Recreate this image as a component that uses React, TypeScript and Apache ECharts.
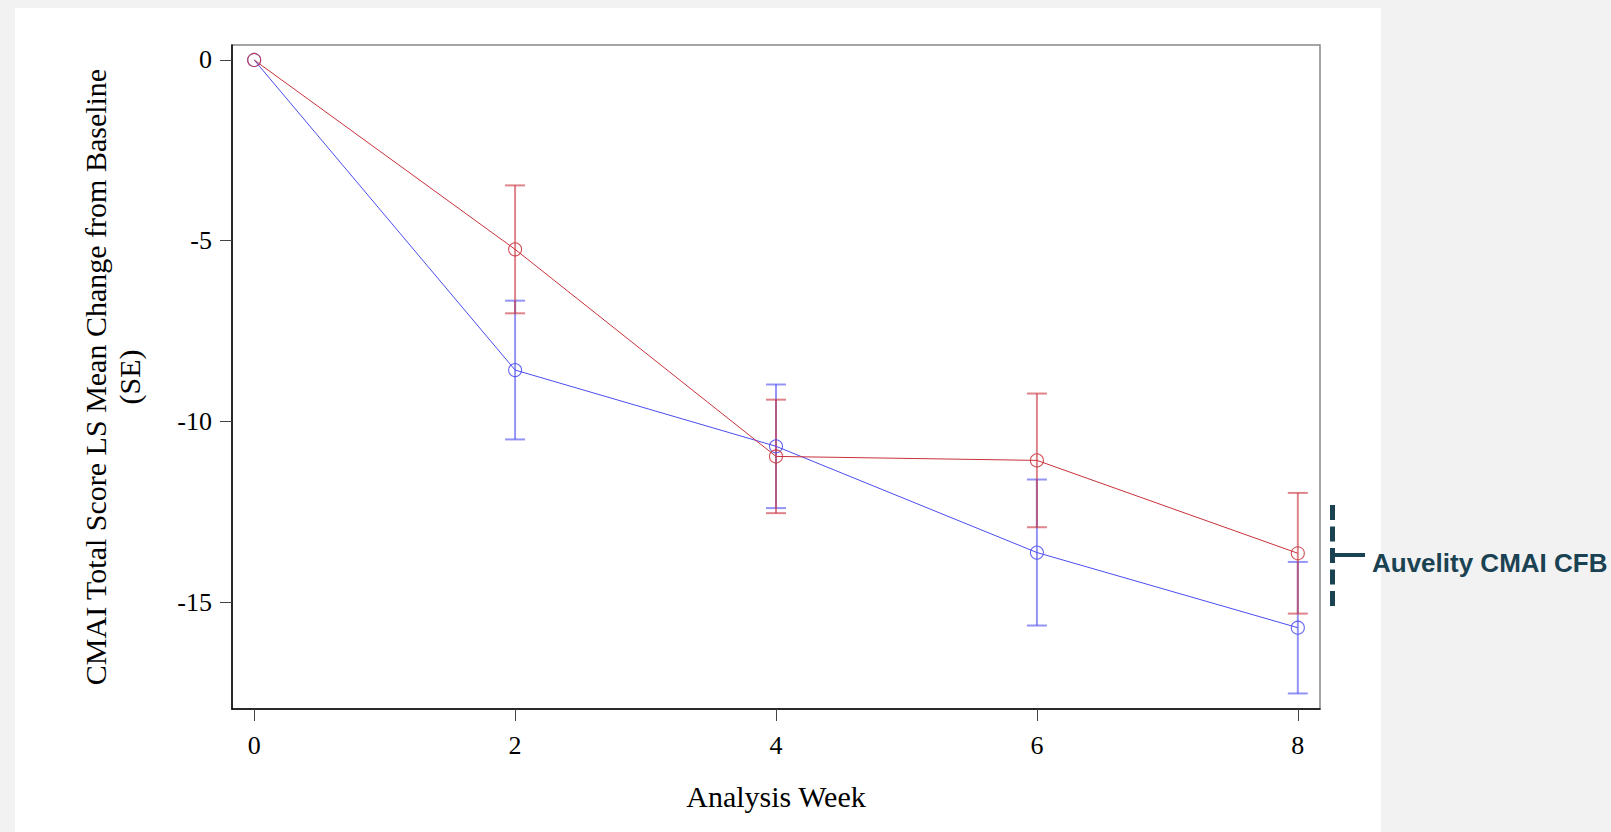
import React, { useEffect, useRef } from "react";
import * as echarts from "echarts";

const weeks = [0, 2, 4, 6, 8];
const auvelityMean = [0, -8.58, -10.69, -13.63, -15.71];
const auvelitySE = [0, 1.92, 1.71, 2.02, 1.82];
const placeboMean = [0, -5.24, -10.97, -11.08, -13.65];
const placeboSE = [0, 1.77, 1.57, 1.85, 1.67];
const xTicks = [0, 2, 4, 6, 8];
const yTicks = [-15, -10, -5, 0];

const BLUE = "#4c4cf0";
const RED = "#c8323c";
const SERIF = "'Liberation Serif', 'Times New Roman', serif";

function errorSeries(name: string, means: number[], se: number[], color: string) {
  const data = weeks.map((w, i) => [w, means[i] - se[i], means[i] + se[i]]);
  return {
    type: "custom",
    name,
    data,
    z: 3,
    silent: true,
    renderItem: (params: any, api: any) => {
      const x = api.value(0);
      const lo = api.value(1);
      const hi = api.value(2);
      if (hi - lo === 0) return null;
      const pLo = api.coord([x, lo]);
      const pHi = api.coord([x, hi]);
      const hw = 10;
      const style = { stroke: color, lineWidth: 2, opacity: 0.6 };
      return {
        type: "group",
        children: [
          { type: "line", shape: { x1: pLo[0], y1: pLo[1], x2: pHi[0], y2: pHi[1] }, style },
          { type: "line", shape: { x1: pLo[0] - hw, y1: pLo[1], x2: pLo[0] + hw, y2: pLo[1] }, style },
          { type: "line", shape: { x1: pHi[0] - hw, y1: pHi[1], x2: pHi[0] + hw, y2: pHi[1] }, style },
        ],
      };
    },
  };
}

function lineSeries(name: string, means: number[], color: string) {
  return {
    type: "line",
    name,
    data: weeks.map((w, i) => [w, means[i]]),
    symbol: "circle",
    symbolSize: 13,
    z: 4,
    lineStyle: { color, width: 1 },
    itemStyle: { color: "transparent", borderColor: color, borderWidth: 1.1, opacity: 0.85 },
  };
}

export default function App() {
  const ref = useRef<HTMLDivElement>(null);
  useEffect(() => {
    if (!ref.current) return;
    const chart = echarts.init(ref.current, null, { renderer: "svg" });
    chart.setOption({
      animation: false,
      backgroundColor: "#f2f2f2",
      grid: {
        left: 232,
        top: 45,
        width: 1088,
        height: 664,
        show: true,
        backgroundColor: "#ffffff",
        borderColor: "#888888",
        borderWidth: 1.5,
      },
      xAxis: {
        type: "value",
        min: -0.17,
        max: 8.17,
        name: "Analysis Week",
        nameLocation: "middle",
        nameGap: 72,
        nameTextStyle: { fontFamily: SERIF, fontSize: 30, color: "#000" },
        axisLine: { show: true, onZero: false, lineStyle: { color: "#000", width: 1.5 } },
        axisTick: { show: true, length: 12, customValues: xTicks, lineStyle: { color: "#444", width: 1 } },
        axisLabel: { customValues: xTicks, fontFamily: SERIF, fontSize: 26, color: "#000", margin: 23 },
        splitLine: { show: false },
      },
      yAxis: {
        type: "value",
        min: -17.96,
        max: 0.415,
        name: "CMAI Total Score LS Mean Change from Baseline\n(SE)",
        nameLocation: "middle",
        nameRotate: 90,
        nameGap: 86,
        nameTextStyle: { fontFamily: SERIF, fontSize: 30, color: "#000", lineHeight: 34 },
        axisLine: { show: true, onZero: false, lineStyle: { color: "#000", width: 1.5 } },
        axisTick: { show: true, length: 12, customValues: yTicks, lineStyle: { color: "#444", width: 1 } },
        axisLabel: { customValues: yTicks, fontFamily: SERIF, fontSize: 26, color: "#000", margin: 20 },
        splitLine: { show: false },
      },
      graphic: [
        {
          type: "rect",
          z: -100,
          silent: true,
          shape: { x: 15, y: 8, width: 1366, height: 824 },
          style: { fill: "#ffffff" },
        },
        {
          type: "line",
          silent: true,
          shape: { x1: 1332.5, y1: 505, x2: 1332.5, y2: 607 },
          style: { stroke: "#1a4252", lineWidth: 5, lineDash: [15, 6.5] },
        },
        {
          type: "line",
          silent: true,
          shape: { x1: 1330, y1: 555, x2: 1365, y2: 555 },
          style: { stroke: "#1a4252", lineWidth: 4 },
        },
        {
          type: "text",
          silent: true,
          x: 1372,
          y: 563,
          style: {
            text: "Auvelity CMAI CFB",
            fill: "#1a4252",
            font: "bold 26px 'Liberation Sans', Arial, sans-serif",
            textAlign: "left",
            textVerticalAlign: "middle",
          },
        },
      ],
      series: [
        errorSeries("Auvelity SE", auvelityMean, auvelitySE, BLUE),
        errorSeries("Placebo SE", placeboMean, placeboSE, RED),
        lineSeries("Auvelity", auvelityMean, BLUE),
        lineSeries("Placebo", placeboMean, RED),
      ],
    });
    return () => chart.dispose();
  }, []);
  return (
    <div style={{ position: "fixed", left: 0, top: 0, width: 1611, height: 832, background: "#f2f2f2" }}>
      <div ref={ref} style={{ width: 1611, height: 832 }} />
    </div>
  );
}
